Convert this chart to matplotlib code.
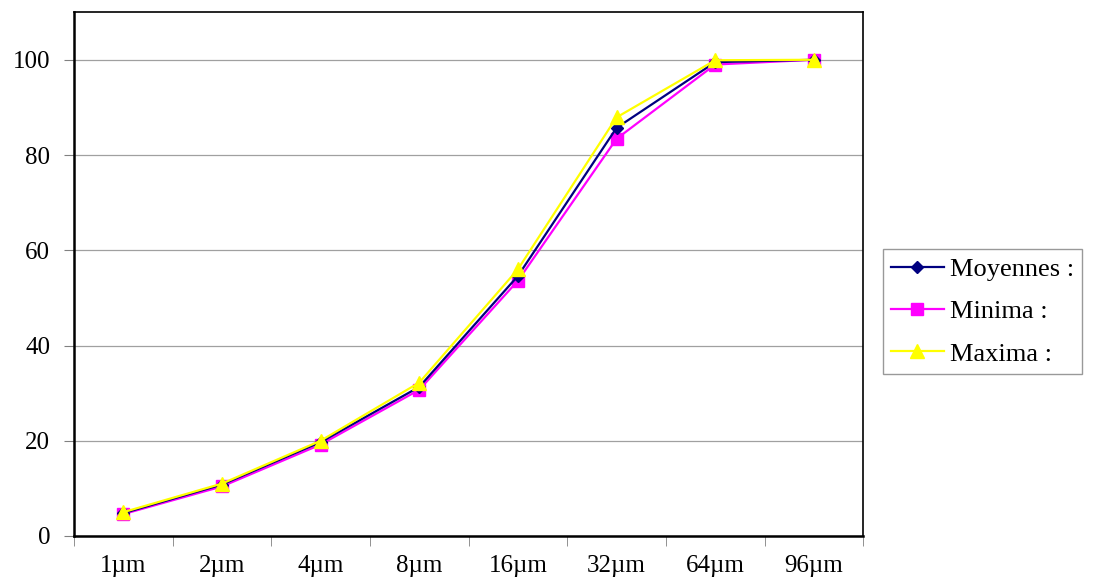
import matplotlib
matplotlib.use('Agg')
import matplotlib.pyplot as plt
import numpy as np

categories = ['1µm', '2µm', '4µm', '8µm', '16µm', '32µm', '64µm', '96µm']
moyennes = [4.8, 10.8, 19.7, 31.3, 54.6, 85.7, 99.5, 100.0]
minima = [4.6, 10.4, 19.2, 30.7, 53.6, 83.4, 99.0, 100.0]
maxima = [5.0, 11.0, 20.0, 32.2, 56.0, 87.9, 99.9, 100.0]

plt.rcParams['font.family'] = ['Liberation Serif', 'DejaVu Serif']
plt.rcParams['font.size'] = 18

fig = plt.figure(figsize=(10.94, 5.84), dpi=100)
ax = fig.add_axes([0.0676, 0.0822, 0.7214, 0.897])

x = np.arange(len(categories))
ax.plot(x, moyennes, color='#000080', marker='D', markersize=6, linewidth=1.6, label='Moyennes :', zorder=3)
ax.plot(x, minima, color='#ff00ff', marker='s', markersize=9, linewidth=1.6, label='Minima :', zorder=2)
ax.plot(x, maxima, color='#ffff00', marker='^', markersize=10, linewidth=1.6, label='Maxima :', zorder=4)

ax.set_xlim(-0.5, len(categories) - 0.5)
ax.set_ylim(0, 110)
ax.set_yticks([0, 20, 40, 60, 80, 100])
ax.set_xticks(x)
ax.set_xticklabels(categories)
ax.set_xticks(np.arange(-0.5, len(categories), 1), minor=True)
ax.tick_params(axis='x', which='major', length=0, pad=14)
ax.tick_params(axis='x', which='minor', length=7, color='#808080', direction='out')
ax.tick_params(axis='y', length=7, color='#808080', direction='out', pad=10)
ax.grid(axis='y', color='#a0a0a0', linewidth=0.9)
ax.set_axisbelow(True)
for s in ax.spines.values():
    s.set_color('black')
    s.set_linewidth(1.2)
ax.spines['left'].set_linewidth(1.8)
ax.spines['bottom'].set_linewidth(1.8)

leg = fig.legend(loc='upper left', bbox_to_anchor=(0.807, 0.573), frameon=True,
                 fancybox=False, handlelength=2.0, handletextpad=0.25,
                 borderpad=0.3, labelspacing=0.72, borderaxespad=0, fontsize=19)
leg.get_frame().set_edgecolor('#808080')
leg.get_frame().set_linewidth(1.0)

fig.savefig('out.png', dpi=100)
